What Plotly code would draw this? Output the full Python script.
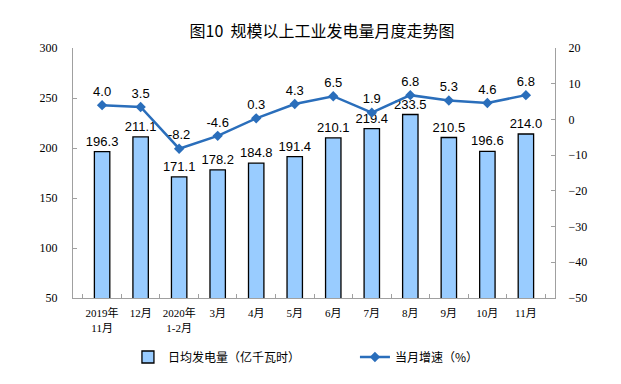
import plotly.graph_objects as go

categories = ["2019年<br>11月", "12月", "2020年<br>1-2月", "3月", "4月", "5月",
              "6月", "7月", "8月", "9月", "10月", "11月"]
daily_gen = [196.3, 211.1, 171.1, 178.2, 184.8, 191.4, 210.1, 219.4, 233.5, 210.5, 196.6, 214.0]
growth = [4.0, 3.5, -8.2, -4.6, 0.3, 4.3, 6.5, 1.9, 6.8, 5.3, 4.6, 6.8]

bar_name = "日均发电量（亿千瓦时）"
line_name = "当月增速（%）"
title = "图10  规模以上工业发电量月度走势图"

serif = "Liberation Serif, Times New Roman, serif"
sans = "Liberation Sans, Arial, sans-serif"
cjk = "Noto Sans CJK SC, sans-serif"
mixed = "Liberation Serif, Noto Sans CJK SC, serif"

# page body has an 8px default margin; figure sized to fit the window
W, H = 613, 376

fig = go.Figure()
fig.add_trace(go.Bar(
    x=categories, y=daily_gen, name=bar_name,
    marker=dict(color="#99CCFF", line=dict(color="#000000", width=1.3)),
    width=0.4,
    text=[f"{v:.1f}" for v in daily_gen], textposition="outside",
    constraintext="none",
    textfont=dict(family=sans, size=13, color="#000"),
    cliponaxis=False,
))
fig.add_trace(go.Scatter(
    x=categories, y=growth, name=line_name, yaxis="y2",
    mode="lines+markers+text",
    line=dict(color="#2A6EBB", width=2.5),
    marker=dict(symbol="diamond", size=8, color="#2A6EBB"),
    text=[f"{v:.1f}" for v in growth], textposition="top center",
    textfont=dict(family=sans, size=13, color="#000"),
    cliponaxis=False,
))

axis_col = "#A0A0A0"
fig.update_layout(
    width=W, height=H,
    margin=dict(l=65, r=66, t=40, b=86, autoexpand=False),
    paper_bgcolor="white", plot_bgcolor="white",
    title=dict(text=title, x=314 / W, xanchor="center", y=1 - 23 / H, yanchor="middle",
               font=dict(family=cjk, size=16, color="#000")),
    bargap=0.6,
    xaxis=dict(
        type="category", showline=True, linecolor=axis_col, linewidth=1,
        ticks="inside", tickson="boundaries", ticklen=4, tickcolor=axis_col,
        tickangle=0, ticklabelstandoff=5,
        tickfont=dict(family=mixed, size=11, color="#000"),
        showgrid=False,
    ),
    yaxis=dict(
        range=[50, 300], dtick=50, showline=True, linecolor=axis_col,
        ticks="inside", ticklen=4, tickcolor=axis_col, showgrid=False,
        zeroline=False, ticklabelstandoff=12,
        tickfont=dict(family=serif, size=12, color="#000"),
    ),
    yaxis2=dict(
        range=[-50, 20], dtick=10, overlaying="y", side="right",
        showline=True, linecolor=axis_col, ticks="inside", ticklen=4,
        tickcolor=axis_col, showgrid=False, zeroline=False,
        ticklabelstandoff=10,
        tickfont=dict(family=serif, size=12, color="#000"),
    ),
    legend=dict(
        orientation="h", x=0.114, xanchor="left", y=-59 / 250, yanchor="middle",
        font=dict(family=cjk, size=12, color="#000"),
        entrywidth=182, entrywidthmode="pixels",
    ),
    showlegend=True,
)

fig.write_html("out.html")
